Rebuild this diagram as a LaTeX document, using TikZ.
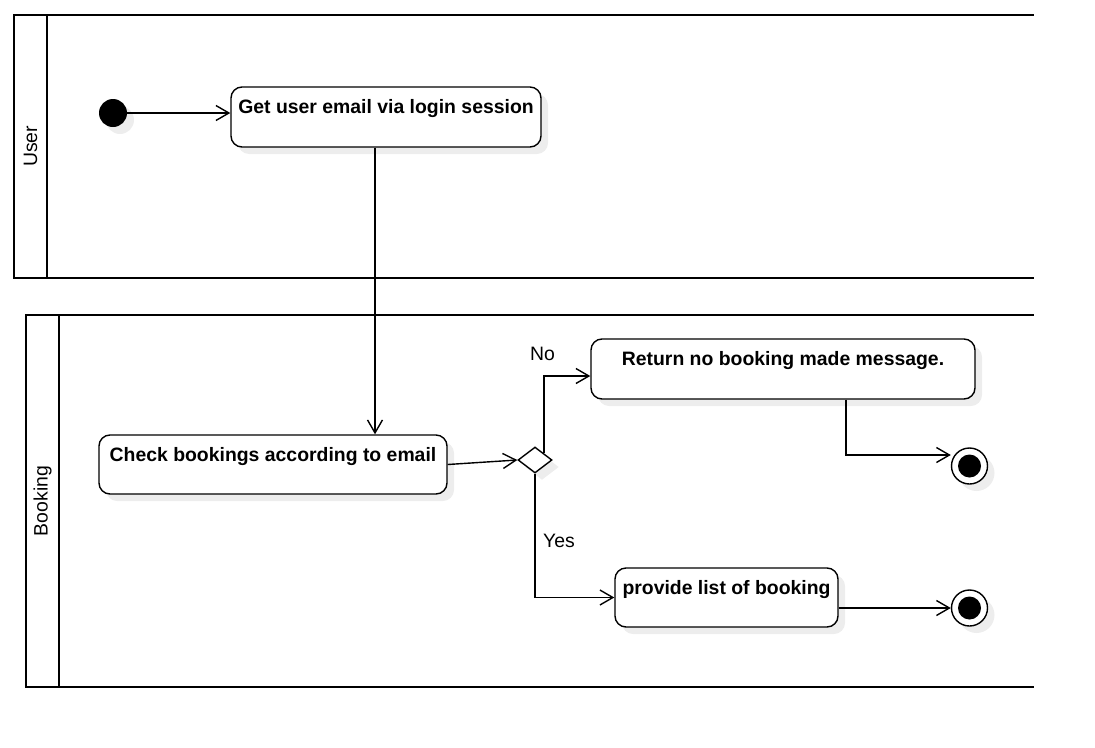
\documentclass[tikz,border=0pt]{standalone}
\usepackage{fontspec}
\setmainfont{Liberation Sans}
\usetikzlibrary{arrows.meta,shapes.geometric,shadows}
\begin{document}
\begin{tikzpicture}[x=1pt,y=-1pt,
  every node/.style={font=\fontsize{19.4}{23}\selectfont},
  lane/.style={line width=2.8pt, line cap=rect},
  shade/.style={general shadow={shadow xshift=7pt, shadow yshift=-7pt, fill=black!7}},
  act/.style={draw, line width=1.4pt, rounded corners=11pt, fill=white, shade,
    inner xsep=0pt, inner ysep=0pt, text height=26pt, font=\fontsize{19.4}{23}\selectfont\bfseries},
  arr/.style={line width=1.4pt, -{Straight Barb[length=13pt,width=15pt]}},
  startnode/.style={circle, fill=black, inner sep=0pt, minimum size=28pt, shade},
  endnode/.style={circle, draw, line width=1.4pt, fill=white, inner sep=0pt, minimum size=36pt, shade},
  decision/.style={diamond, draw, line width=1.4pt, fill=white, inner sep=0pt,
    minimum width=34pt, minimum height=26pt, shade},
  lanelabel/.style={rotate=90, font=\fontsize{19.4}{23}\selectfont}
]
\useasboundingbox (0,0) rectangle (1095,747);

% swimlanes
\draw[lane] (1033,15) -- (14,15) -- (14,278) -- (1033,278);
\draw[lane] (47,15) -- (47,278);
\node[lanelabel] (userlbl) at (30.5,146.5) {User};
\draw[lane] (1033,315) -- (26,315) -- (26,687) -- (1033,687);
\draw[lane] (59,315) -- (59,687);
\node[lanelabel] (booklbl) at (42.5,501) {Booking};

% nodes
\node[startnode] (init) at (113,113) {};
\node[act, minimum width=310pt, text depth=34pt] (get) at (386,117) {Get user email via login session};
\node[act, minimum width=348pt, text depth=33pt] (chk) at (273,464.5) {Check bookings according to email};
\node[decision] (dia) at (535,460) {};
\node[act, minimum width=384pt, text depth=34pt] (ret) at (783,369) {Return no booking made message.};
\node[act, minimum width=223pt, text depth=33pt] (prov) at (726.5,597.5) {provide list of booking};
\node[endnode] (fin1) at (969.5,466) {};
\fill (fin1.center) circle (11.5pt);
\node[endnode] (fin2) at (969.5,608) {};
\fill (fin2.center) circle (11.5pt);

% connectors
\draw[arr] (init.east) -- (init -| get.west);
\draw[arr] ([xshift=-11pt]get.south) -- ([xshift=-11pt]get.south |- chk.north);
\draw[arr] (chk.east) -- (dia.west);
\draw[arr] (dia.north east) |- ([yshift=-7pt]ret.west);
\draw[arr] (dia.south) |- (prov.west);
\draw[arr] ([xshift=63pt]ret.south) |- ([yshift=11pt]fin1.west);
\draw[arr] (prov.east |- fin2.west) -- (fin2.west);

% guard labels
\node[anchor=base west, inner sep=0pt] (nolbl) at (530,360) {No};
\node[anchor=base west, inner sep=0pt] (yeslbl) at (543,547) {Yes};
\end{tikzpicture}
\end{document}
